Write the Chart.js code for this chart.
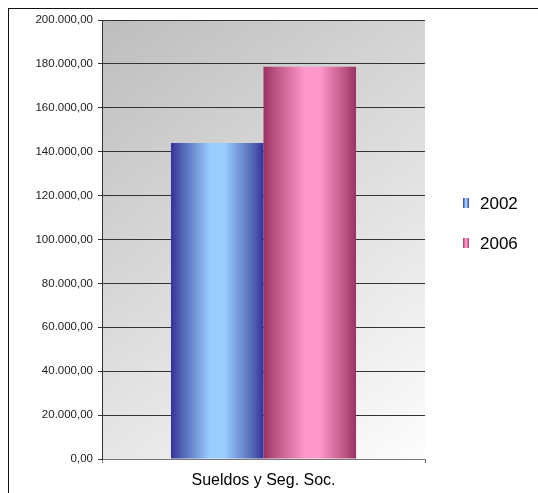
<!DOCTYPE html>
<html>
<head>
<meta charset="utf-8">
<title>Sueldos y Seg. Soc.</title>
<script src="https://cdn.jsdelivr.net/npm/chart.js@4.4.1/dist/chart.umd.min.js"></script>
<style>
    html, body { margin: 0; padding: 0; background: #fff; }
    #wrap { position: relative; width: 538px; height: 493px; overflow: hidden; }
    #frame { position: absolute; left: 8px; top: 8px; width: 600px; height: 600px;
             border-top: 1px solid #111; border-left: 1px solid #111; pointer-events: none; }
</style>
</head>
<body>
<div id="wrap">
    <canvas id="gastosChart" width="538" height="493"></canvas>
    <div id="frame"></div>
</div>
<script>
const categories = ['Sueldos y Seg. Soc.'];
const years = ['2002', '2006'];
const values2002 = [144000];
const values2006 = [178700];
const yMin = 0;
const yMax = 200000;
const yStep = 20000;

// dark edge -> light middle -> dark edge, like a shaded cylinder
const shades = {
    '2002': [[0, '#333399'], [0.12, '#5064b4'], [0.42, '#99ccff'], [0.58, '#99ccff'], [0.88, '#5468b6'], [1, '#333399']],
    '2006': [[0, '#993366'], [0.12, '#b9527f'], [0.45, '#ff99cc'], [0.6, '#ff99cc'], [0.88, '#bd5584'], [1, '#993366']]
};
const catPct = 0.573;
const fontFamily = "'Liberation Sans', Arial, sans-serif";

Chart.defaults.font.family = fontFamily;

function fmt(v) {
    const [i, d] = Number(v).toFixed(2).split('.');
    return i.replace(/\B(?=(\d{3})+(?!\d))/g, '.') + ',' + d;
}

function hGradient(ctx, x1, x2, stops) {
    const g = ctx.createLinearGradient(x1, 0, x2, 0);
    stops.forEach(([p, c]) => g.addColorStop(p, c));
    return g;
}

function barFill(year) {
    return (c) => {
        const chart = c.chart;
        const xs = chart.scales.x;
        const stops = shades[year];
        if (!xs || c.dataIndex === undefined) return stops[2][1];
        const cw = (xs.right - xs.left) / categories.length * catPct;
        const bw = cw / chart.data.datasets.length;
        const left = xs.getPixelForValue(c.dataIndex) - cw / 2 + c.datasetIndex * bw;
        // scales are not laid out yet on the very first pass
        if (!isFinite(left) || !isFinite(bw) || bw <= 0) return stops[2][1];
        return hGradient(chart.ctx, left, left + bw, stops);
    };
}

// grey-to-white wash behind the plot
const plotBackground = {
    id: 'plotBackground',
    beforeDraw(chart) {
        const { ctx, chartArea: a } = chart;
        const g = ctx.createLinearGradient(a.left, a.top, a.right, a.bottom);
        g.addColorStop(0, '#bdbdbd');
        g.addColorStop(1, '#fdfdfd');
        ctx.save();
        ctx.fillStyle = g;
        ctx.fillRect(a.left, a.top, a.right - a.left, a.bottom - a.top);
        ctx.restore();
    }
};

// legend to the right with small shaded swatches
const sideLegend = {
    id: 'sideLegend',
    afterDraw(chart) {
        const { ctx, chartArea: a } = chart;
        const x = a.right + 38;
        let y = 203;
        ctx.save();
        chart.data.datasets.forEach(ds => {
            ctx.fillStyle = hGradient(ctx, x, x + 6, shades[ds.label]);
            ctx.fillRect(x, y - 5, 6, 10);
            ctx.fillStyle = '#000';
            ctx.font = '17px ' + fontFamily;
            ctx.textBaseline = 'middle';
            ctx.fillText(ds.label, x + 17, y + 1);
            y += 40;
        });
        ctx.restore();
    }
};

new Chart(document.getElementById('gastosChart'), {
    type: 'bar',
    data: {
        labels: categories,
        datasets: [
            { label: years[0], data: values2002, backgroundColor: barFill(years[0]) },
            { label: years[1], data: values2006, backgroundColor: barFill(years[1]) }
        ]
    },
    options: {
        responsive: false,
        animation: false,
        devicePixelRatio: 1,
        categoryPercentage: catPct,
        barPercentage: 1,
        layout: { padding: { top: 20, right: 113, bottom: 0, left: 0 } },
        plugins: { legend: { display: false }, tooltip: { enabled: false } },
        scales: {
            x: {
                grid: { offset: true, drawOnChartArea: false, tickLength: 4, color: '#777' },
                border: { color: '#777' },
                ticks: { color: '#000', font: { size: 16 }, padding: 8 },
                afterFit: s => { s.height = 34; }
            },
            y: {
                min: yMin,
                max: yMax,
                ticks: { stepSize: yStep, callback: fmt, color: '#222', font: { size: 11.5 }, padding: 5 },
                grid: { color: '#333', tickLength: 4 },
                border: { color: '#333' },
                afterFit: s => { s.width = 102; }
            }
        }
    },
    plugins: [plotBackground, sideLegend]
});
</script>
</body>
</html>
